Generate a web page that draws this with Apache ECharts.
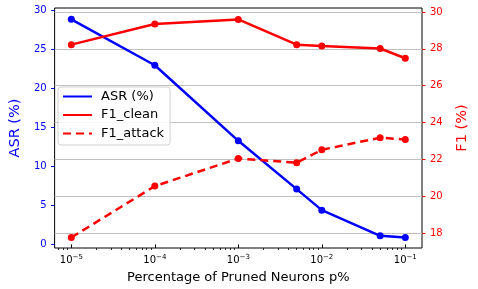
<!DOCTYPE html>
<html><head><meta charset="utf-8">
<script src="https://cdn.jsdelivr.net/npm/echarts@6/dist/echarts.min.js"></script>
<style>html,body{margin:0;padding:0;background:#fff}#c{width:478px;height:289px}</style>
</head><body><div id="c"></div>
<script>
// Data
const pruned = [1e-5, 1e-4, 1e-3, 5e-3, 1e-2, 5e-2, 1e-1];
const asr = [28.9, 23.0, 13.3, 7.1, 4.4, 1.1, 0.9];
const f1Clean = [28.23, 29.35, 29.6, 28.23, 28.16, 28.02, 27.49];
const f1Attack = [17.76, 20.55, 22.05, 21.82, 22.52, 23.18, 23.08];
const xTickExps = [-5, -4, -3, -2, -1];
const asrTicks = [0, 5, 10, 15, 20, 25, 30];
const f1Ticks = [18, 20, 22, 24, 26, 28, 30];

const lx = pruned.map(p => Math.log10(p));
const minorTicks = [];
for (let e = -6; e <= -1; e++) for (let k = 2; k <= 9; k++) {
  const v = Math.log10(k) + e;
  if (v > -5.2 && v < -0.8) minorTicks.push(v);
}
const font = 'DejaVu Sans';
const chart = echarts.init(document.getElementById('c'), null, {renderer: 'canvas'});
chart.setOption({
  animation: false,
  grid: {left: 46, right: 38, top: 8, bottom: 41, show: true, borderColor: '#000', borderWidth: 1, backgroundColor: 'transparent'},
  legend: {
    orient: 'vertical', left: 58, top: 87, itemWidth: 29, itemHeight: 14, itemGap: 5.5,
    padding: [3, 6, 5, 4], backgroundColor: 'rgba(255,255,255,0.85)', borderColor: '#d0d0d0', borderWidth: 1, borderRadius: 3,
    itemStyle: {opacity: 0},
    textStyle: {fontFamily: font, fontSize: 13, color: '#000', padding: [0, 0, 0, 4]},
    data: ['ASR (%)', 'F1_clean', 'F1_attack']
  },
  xAxis: [{
    type: 'value', min: -5.2, max: -0.8,
    name: 'Percentage of Pruned Neurons p%', nameLocation: 'middle', nameGap: 23,
    nameTextStyle: {fontFamily: font, fontSize: 13, color: '#000'},
    axisLine: {show: false}, splitLine: {show: false},
    axisTick: {customValues: xTickExps, length: 3.5, lineStyle: {color: '#000'}},
    axisLabel: {
      customValues: xTickExps, margin: 6,
      formatter: v => '{b|10}{s|\u2212' + Math.abs(Math.round(v)) + '}',
      rich: {b: {fontFamily: font, fontSize: 10, color: '#000'}, s: {fontFamily: font, fontSize: 7, color: '#000', padding: [0, 0, 6, 0]}}
    }
  }, {
    type: 'value', min: -5.2, max: -0.8, position: 'bottom',
    axisLine: {show: false}, splitLine: {show: false}, axisLabel: {show: false},
    axisTick: {customValues: minorTicks, length: 2, lineStyle: {color: '#000', width: 0.8}}
  }],
  yAxis: [{
    type: 'value', position: 'left', min: -0.46, max: 30.35,
    name: 'ASR (%)', nameLocation: 'middle', nameGap: 27, nameRotate: 90,
    nameTextStyle: {fontFamily: font, fontSize: 14.5, color: 'blue'},
    axisLine: {show: false}, splitLine: {show: false},
    axisTick: {show: true, customValues: asrTicks, length: 3.5, lineStyle: {color: 'blue'}},
    axisLabel: {customValues: asrTicks, margin: 8, fontFamily: font, fontSize: 10, color: 'blue'}
  }, {
    type: 'value', position: 'right', min: 17.19, max: 30.22,
    name: 'F1 (%)', nameLocation: 'middle', nameGap: 33, nameRotate: 90,
    nameTextStyle: {fontFamily: font, fontSize: 14.5, color: 'red'},
    axisLine: {show: false},
    splitLine: {show: true, lineStyle: {color: '#c0c0c0', width: 1}},
    axisTick: {show: true, customValues: f1Ticks, length: 3.5, lineStyle: {color: 'red'}},
    axisLabel: {customValues: f1Ticks, margin: 8, fontFamily: font, fontSize: 10, color: 'red'}
  }],
  series: [{
    name: 'ASR (%)', type: 'line', xAxisIndex: 0, yAxisIndex: 0,
    data: lx.map((x, i) => [x, asr[i]]),
    symbol: 'circle', symbolSize: 7, color: 'blue',
    lineStyle: {width: 2.5, color: 'blue'}, itemStyle: {color: 'blue'}
  }, {
    name: 'F1_clean', type: 'line', xAxisIndex: 0, yAxisIndex: 1,
    data: lx.map((x, i) => [x, f1Clean[i]]),
    symbol: 'circle', symbolSize: 7, color: 'red',
    lineStyle: {width: 2.5, color: 'red'}, itemStyle: {color: 'red'}
  }, {
    name: 'F1_attack', type: 'line', xAxisIndex: 0, yAxisIndex: 1,
    data: lx.map((x, i) => [x, f1Attack[i]]),
    symbol: 'circle', symbolSize: 7, color: 'red',
    lineStyle: {width: 2.5, color: 'red', type: [8, 5]}, itemStyle: {color: 'red'}
  }]
});
</script></body></html>
